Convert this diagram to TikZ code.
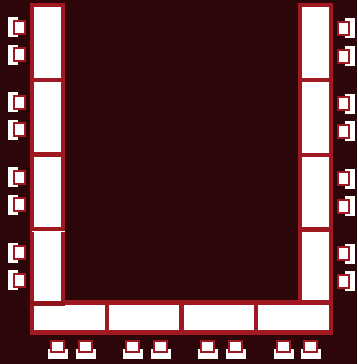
\documentclass[tikz,border=0pt]{standalone}
\definecolor{bgdark}{HTML}{2C0608}
\definecolor{wallred}{HTML}{A01820}
\definecolor{walldark}{HTML}{8E141B}
\tikzset{x=1pt,y=-1pt,
  wallfill/.style={fill=wallred,draw=none},
  roomfill/.style={fill=white,draw=none},
  padwhite/.style={fill=white,draw=none},
  padred/.style={fill=wallred,draw=none}}
% #1 = top of white bracket, #2 = top of red square
\newcommand{\padL}[2]{%
  \fill[padwhite] (8,#1) rectangle (18,#1+20);
  \fill[padred] (13,#2) rectangle (26,#2+15);
  \fill[padwhite] (15.4,#2+2.4) rectangle (23.6,#2+12.6);}
\newcommand{\padR}[2]{%
  \fill[padwhite] (345,#1) rectangle (355,#1+20);
  \fill[padred] (337,#2) rectangle (350,#2+15);
  \fill[padwhite] (339.4,#2+2.4) rectangle (347.6,#2+12.6);}
\newcommand{\padB}[1]{%
  \fill[padwhite] (#1-2,349) rectangle (#1+18,359);
  \fill[padred] (#1,340) rectangle (#1+15,353);
  \fill[padwhite] (#1+2.4,342.4) rectangle (#1+12.6,350.6);}
\begin{document}
\begin{tikzpicture}
\useasboundingbox (0,0) rectangle (357,364);
\fill[bgdark] (0,0) rectangle (357,364);
% walls
\fill[wallfill] (30,3) rectangle (65,306);
\fill[wallfill] (298,3) rectangle (333,335);
\fill[wallfill] (30,300) rectangle (333,335);
% left rooms
\fill[roomfill] (34.4,7.4) rectangle (60.7,77.7);
\fill[roomfill] (34.4,82) rectangle (60.7,151.8);
\fill[roomfill] (34.4,156.7) rectangle (60.7,226.7);
\fill[roomfill] (34.4,232) rectangle (60.7,301);
\fill[roomfill] (32,231) rectangle (65,232);
% right rooms
\fill[roomfill] (302.4,7.4) rectangle (328.6,77.7);
\fill[roomfill] (302.4,82) rectangle (328.6,152.7);
\fill[roomfill] (302.4,156.7) rectangle (328.6,227);
\fill[roomfill] (302.4,232) rectangle (328.6,300);
% bottom rooms
\fill[roomfill] (34.4,305) rectangle (104.7,330.2);
\fill[roomfill] (109.3,305) rectangle (179.4,330.2);
\fill[roomfill] (184,305) rectangle (254,330.2);
\fill[roomfill] (258.3,305) rectangle (328.6,330.2);
% darker bar closing the last left room
\fill[walldark] (30,301) rectangle (65,306);
% pads
\padL{17}{20}\padL{45}{47}\padL{92}{95}\padL{120}{122}\padL{167}{170}\padL{195}{197}\padL{243}{245}\padL{270}{273}
\padR{18}{21}\padR{46}{49}\padR{94}{96}\padR{121}{124}\padR{169}{171}\padR{196}{199}\padR{244}{246}\padR{271}{274}
\padB{50}\padB{78}\padB{125}\padB{153}\padB{200}\padB{228}\padB{276}\padB{303}
\end{tikzpicture}
\end{document}
